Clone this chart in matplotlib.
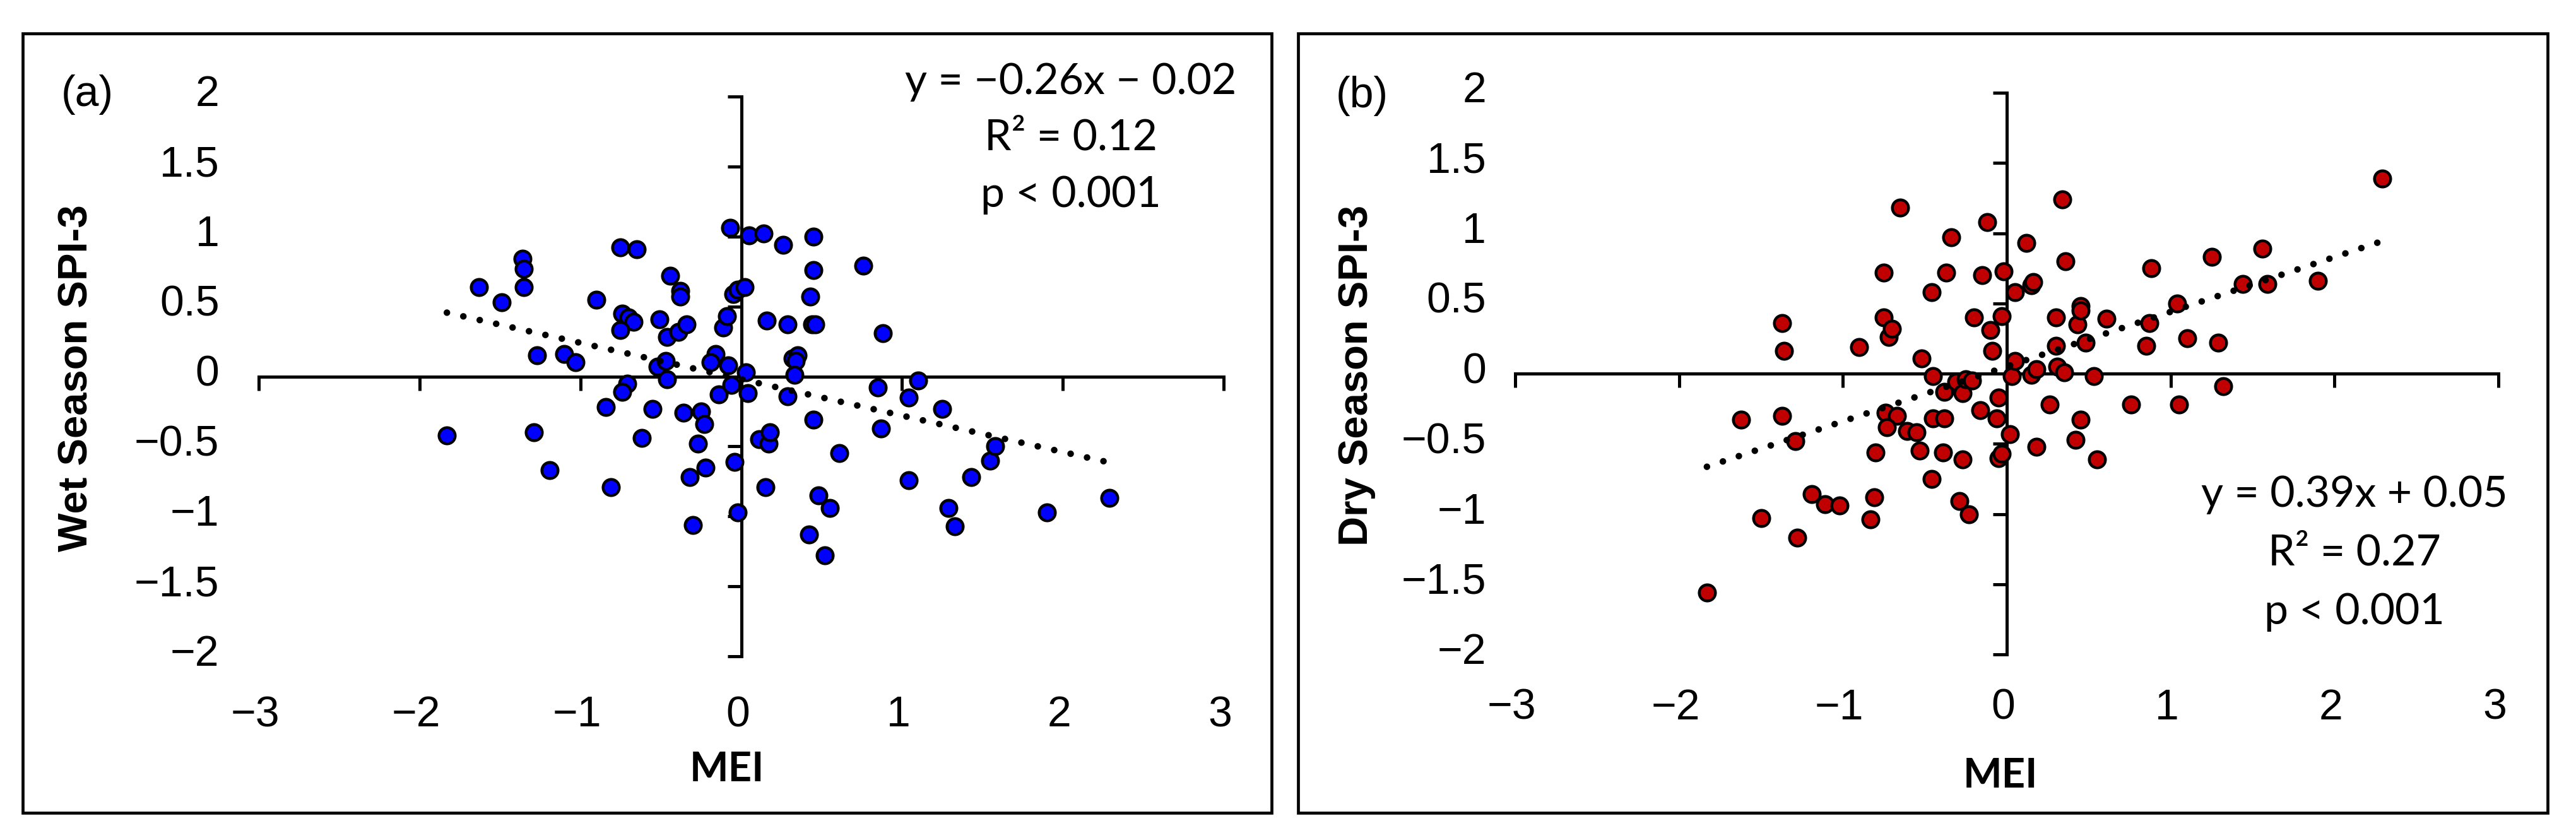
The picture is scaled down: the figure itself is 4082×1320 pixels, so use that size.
import numpy as np
import matplotlib.pyplot as plt
from matplotlib.patches import Rectangle

# values
mei_wet = [-1.83, -1.63, -1.49, -1.36, -1.35, -1.35, -1.27, -1.29, -1.19, -1.10,
           -1.03, -0.90, -0.84, -0.81, -0.75, -0.65, -0.74, -0.70, -0.67, -0.75,
           -0.71, -0.74, -0.62, -0.55, -0.51, -0.52, -0.47, -0.46, -0.44, -0.38,
           -0.38, -0.46, -0.39, -0.34, -0.36, -0.25, -0.23, -0.27, -0.22, -0.32,
           -0.30, -0.16, -0.19, -0.14, -0.11, -0.09, -0.08, -0.06, -0.07, -0.05,
           -0.02, 0.02, -0.04, -0.02, 0.03, 0.04, 0.05, 0.14, 0.16, 0.11,
           0.17, 0.18, 0.15, 0.26, 0.29, 0.29, 0.32, 0.35, 0.34, 0.33,
           0.45, 0.45, 0.43, 0.44, 0.46, 0.45, 0.48, 0.55, 0.42, 0.52,
           0.61, 0.76, 0.88, 0.85, 0.87, 1.04, 1.10, 1.04, 1.25, 1.29,
           1.33, 1.43, 1.55, 1.58, 1.90, 2.29]
spi_wet = [-0.42, 0.64, 0.53, 0.84, 0.77, 0.64, 0.15, -0.40, -0.67, 0.16,
           0.10, 0.55, -0.22, -0.79, 0.92, 0.91, 0.45, 0.42, 0.39, 0.33,
           -0.05, -0.11, -0.44, -0.23, 0.41, 0.07, 0.11, -0.02, 0.72, 0.61,
           0.57, 0.28, 0.32, 0.37, -0.26, -0.25, -0.34, -0.48, -0.65, -0.72,
           -1.06, 0.16, 0.10, -0.13, 0.35, 0.43, 0.08, -0.06, 1.06, 0.59,
           0.62, 0.64, -0.61, -0.97, 0.03, -0.12, 1.01, 1.02, 0.40, -0.45,
           -0.48, -0.40, -0.79, 0.94, 0.37, -0.14, 0.13, 0.15, 0.11, 0.01,
           1.00, 0.76, 0.57, 0.37, 0.37, -0.31, -0.85, -0.94, -1.13, -1.28,
           -0.55, 0.79, 0.31, -0.08, -0.37, -0.15, -0.03, -0.74, -0.23, -0.94,
           -1.07, -0.72, -0.60, -0.50, -0.97, -0.87]

mei_dry = [-1.83, -1.62, -1.50, -1.37, -1.36, -1.37, -1.29, -1.28, -1.19, -1.11,
           -1.02, -0.90, -0.83, -0.81, -0.80, -0.75, -0.75, -0.72, -0.70, -0.74,
           -0.67, -0.73, -0.65, -0.61, -0.55, -0.53, -0.52, -0.46, -0.46, -0.45,
           -0.45, -0.38, -0.38, -0.39, -0.37, -0.34, -0.31, -0.29, -0.27, -0.27,
           -0.25, -0.23, -0.21, -0.20, -0.15, -0.16, -0.12, -0.10, -0.09, -0.05,
           -0.06, -0.05, -0.03, -0.03, -0.02, 0.03, 0.02, 0.05, 0.05, 0.12,
           0.15, 0.16, 0.15, 0.18, 0.18, 0.26, 0.30, 0.30, 0.31, 0.34,
           0.36, 0.35, 0.42, 0.43, 0.45, 0.45, 0.45, 0.48, 0.53, 0.55,
           0.61, 0.76, 0.85, 0.87, 0.88, 1.04, 1.05, 1.10, 1.25, 1.29,
           1.32, 1.44, 1.56, 1.59, 1.90, 2.29]
spi_dry = [-1.56, -0.33, -1.03, 0.36, 0.16, -0.30, -0.48, -1.17, -0.86, -0.93,
           -0.94, 0.19, -1.04, -0.88, -0.56, 0.72, 0.40, 0.26, 0.32, -0.28,
           -0.30, -0.38, 1.18, -0.41, -0.42, -0.55, 0.11, 0.58, -0.75, -0.02,
           -0.32, -0.32, -0.13, -0.56, 0.72, 0.97, -0.06, -0.91, -0.14, -0.61,
           -0.04, -1.00, -0.05, 0.40, 0.70, -0.26, 1.08, 0.31, 0.16, -0.17,
           -0.32, -0.60, -0.57, 0.41, 0.73, -0.02, -0.43, 0.58, 0.09, 0.93,
           0.63, 0.65, -0.01, 0.03, -0.52, -0.22, 0.40, 0.20, 0.05, 1.24,
           0.80, 0.01, -0.47, 0.35, 0.48, 0.45, -0.33, 0.22, -0.02, -0.61,
           0.39, -0.22, 0.20, 0.36, 0.75, 0.50, -0.22, 0.25, 0.83, 0.22,
           -0.09, 0.64, 0.89, 0.64, 0.66, 1.39]

wet_fit = (-0.26, -0.02)
dry_fit = (0.39, 0.05)
wet_stats = ["y = \u22120.26x \u2212 0.02", "R\u00b2 = 0.12", "p < 0.001"]
dry_stats = ["y = 0.39x + 0.05", "R\u00b2 = 0.27", "p < 0.001"]

x_ticks = [-3, -2, -1, 0, 1, 2, 3]
y_ticks = [-2, -1.5, -1, -0.5, 0, 0.5, 1, 1.5, 2]

W, H = 4082, 1320
fig = plt.figure(figsize=(W / 100, H / 100), dpi=100, facecolor="white")


def fx(px):
    return px / W


def fy(py):
    return 1 - py / H


TICK_FONT = ["Liberation Sans", "DejaVu Sans"]
CAL_FONT = ["Lato", "DejaVu Sans"]

# one dict per panel, layout in pixels of the 4082x1320 figure
panels = [
    dict(x=mei_wet, y=spi_wet, fit=wet_fit, stats=wet_stats, color="#0000FF",
         tag="(a)", ylabel="Wet Season SPI-3",
         frame=(36, 53, 2015, 1288), box=(410, 153, 1939, 1040),
         ylab_gap=45, xlab_gap=44, tag_pos=(97, 150), ylab_pos=(122, 599),
         mei_pos=(1152, 1219), stat_x=1697, stat_base=[149, 237, 328]),
    dict(x=mei_dry, y=spi_dry, fit=dry_fit, stats=dry_stats, color="#C00000",
         tag="(b)", ylabel="Dry Season SPI-3",
         frame=(2057, 53, 4037, 1288), box=(2401, 147, 3959, 1037),
         ylab_gap=33, xlab_gap=38, tag_pos=(2117, 152), ylab_pos=(2150, 595),
         mei_pos=(3170, 1230), stat_x=3731, stat_base=[803, 896, 989]),
]

for p in panels:
    l, t, r, b = p["box"]
    ax = fig.add_axes([fx(l), fy(b), (r - l) / W, (b - t) / H])
    ax.set_xlim(-3, 3)
    ax.set_ylim(-2, 2)
    ax.patch.set_alpha(0)
    for side in ("top", "right"):
        ax.spines[side].set_visible(False)
    ax.spines["left"].set_position(("data", 0))
    ax.spines["bottom"].set_position(("data", 0))
    ax.spines["left"].set_linewidth(3.6)
    ax.spines["bottom"].set_linewidth(3.6)
    ax.set_xticks(x_ticks)
    ax.set_yticks(y_ticks)
    ax.tick_params(direction="out", length=16, width=3.6,
                   labelbottom=False, labelleft=False)

    # Excel-style "low" tick labels at the plot edges
    for v in y_ticks:
        ax.annotate(f"{v:g}".replace("-", "\u2212"), xy=(0, v),
                    xycoords=("axes fraction", "data"),
                    xytext=(-p["ylab_gap"], 2), textcoords="offset points",
                    ha="right", va="center", fontsize=49, family=TICK_FONT)
    for v in x_ticks:
        ax.annotate(f"{v:g}".replace("-", "\u2212"), xy=(v, 0),
                    xycoords=("data", "axes fraction"),
                    xytext=(-4, -p["xlab_gap"]), textcoords="offset points",
                    ha="center", va="top", fontsize=49, family=TICK_FONT)

    ax.scatter(p["x"], p["y"], s=340, c=p["color"], edgecolors="black",
               linewidths=3.2, zorder=3, clip_on=False)

    slope, icpt = p["fit"]
    xs = np.array([min(p["x"]), max(p["x"])])
    ax.plot(xs, slope * xs + icpt, color="black", lw=7.5,
            linestyle=(0, (0.01, 2.55)), dash_capstyle="round", zorder=4)

    fl, ft, fr, fb = p["frame"]
    fig.add_artist(Rectangle((fx(fl), fy(fb)), (fr - fl) / W, (fb - ft) / H,
                             transform=fig.transFigure, fill=False,
                             lw=3.4, ec="black"))

    fig.text(fx(p["tag_pos"][0]), fy(p["tag_pos"][1]), p["tag"], ha="left",
             va="center", fontsize=49, family=TICK_FONT)
    fig.text(fx(p["ylab_pos"][0]), fy(p["ylab_pos"][1]), p["ylabel"],
             rotation=90, ha="center", va="center", fontsize=47,
             fontweight="bold", family=TICK_FONT)
    fig.text(fx(p["mei_pos"][0]), fy(p["mei_pos"][1]), "MEI", ha="center",
             va="center", fontsize=47, fontweight="bold", family=CAL_FONT)
    for line, base in zip(p["stats"], p["stat_base"]):
        fig.text(fx(p["stat_x"]), fy(base), line, ha="center", va="baseline",
                 fontsize=49, family=CAL_FONT)

fig.savefig("out.png", dpi=100, facecolor="white")
